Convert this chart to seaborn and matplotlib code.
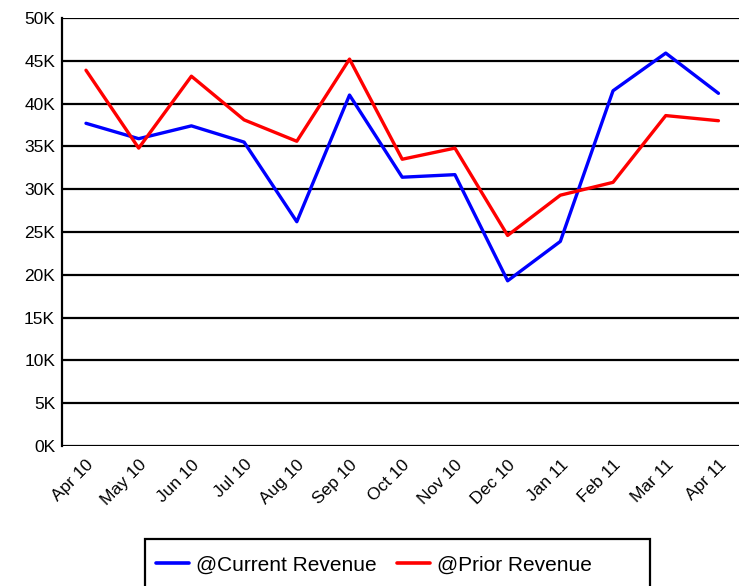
import matplotlib
matplotlib.use("Agg")
import matplotlib.pyplot as plt
import seaborn as sns
import pandas as pd
from matplotlib.lines import Line2D
from matplotlib.patches import Rectangle

months = ["Apr 10", "May 10", "Jun 10", "Jul 10", "Aug 10", "Sep 10", "Oct 10",
          "Nov 10", "Dec 10", "Jan 11", "Feb 11", "Mar 11", "Apr 11"]
current_revenue = [37700, 35900, 37400, 35500, 26200, 41000, 31400,
                   31700, 19300, 23900, 41500, 45900, 41200]
prior_revenue = [43900, 34800, 43200, 38100, 35600, 45200, 33500,
                 34800, 24600, 29300, 30800, 38600, 38000]
series_names = ["@Current Revenue", "@Prior Revenue"]
y_ticks = [0, 5000, 10000, 15000, 20000, 25000, 30000, 35000, 40000, 45000, 50000]
y_tick_labels = ["0K", "5K", "10K", "15K", "20K", "25K", "30K", "35K", "40K", "45K", "50K"]

sns.set_style("white")
plt.rcParams["font.family"] = ["Liberation Sans", "DejaVu Sans"]
plt.rcParams["text.color"] = "black"
plt.rcParams["xtick.color"] = "black"
plt.rcParams["ytick.color"] = "black"

df = pd.DataFrame({
    "month": months * 2,
    "idx": list(range(len(months))) * 2,
    "value": current_revenue + prior_revenue,
    "series": [series_names[0]] * len(months) + [series_names[1]] * len(months),
})

fig = plt.figure(figsize=(7.39, 5.86), dpi=100)
ax = fig.add_axes([62 / 739, 1 - 446 / 586, (739 - 62) / 739, (446 - 18) / 586])

sns.lineplot(data=df, x="idx", y="value", hue="series",
             palette={series_names[0]: "#0000ff", series_names[1]: "#ff0000"},
             linewidth=2.4, ax=ax, legend=False)

ax.set_ylim(0, 50000)
ax.set_xlim(-0.455, 12.39)
ax.set_yticks(y_ticks)
ax.set_yticklabels(y_tick_labels, fontsize=12.5)
ax.set_xticks(range(len(months)))
ax.set_xticklabels(months, fontsize=12.5, rotation=45, ha="right", rotation_mode="anchor")
ax.tick_params(axis="x", pad=8, length=0, labelcolor="black")
ax.tick_params(axis="y", pad=5, length=0, labelcolor="black")
ax.yaxis.grid(True, color="black", linewidth=1.6)
ax.set_axisbelow(True)
ax.set_xlabel("")
ax.set_ylabel("")
for s in ["top", "right", "bottom"]:
    ax.spines[s].set_visible(False)
ax.spines["left"].set_color("black")
ax.spines["left"].set_linewidth(1.6)

# legend frame
fig.patches.append(Rectangle((145 / 739, 1 - 600 / 586), (650 - 145) / 739, (600 - 539) / 586,
                             transform=fig.transFigure, fill=False,
                             edgecolor="black", linewidth=1.6))
handles = [Line2D([], [], color="#0000ff", linewidth=2.6),
           Line2D([], [], color="#ff0000", linewidth=2.6)]
leg = fig.legend(handles, series_names, loc="center left",
                 bbox_to_anchor=(156 / 739, 1 - 565 / 586), ncol=2,
                 fontsize=15, frameon=False,
                 handlelength=1.6, handletextpad=0.34, columnspacing=0.96,
                 borderpad=0.0, borderaxespad=0.0)

fig.savefig("out.png", dpi=100)
